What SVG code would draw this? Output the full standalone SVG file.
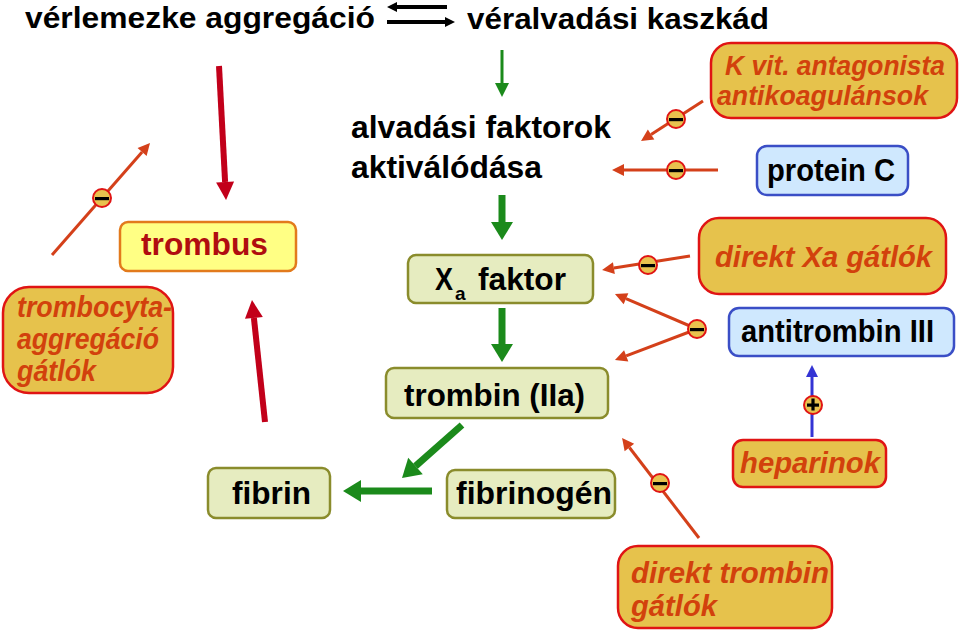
<svg xmlns="http://www.w3.org/2000/svg" width="960" height="632" viewBox="0 0 960 632">
<style>
text{font-family:"Liberation Sans",Arial,sans-serif}
.t{font-weight:bold;fill:#000}
.it{font-weight:bold;font-style:italic;fill:#d2410c}
.gold{fill:#e6c24c;stroke:#e01414;stroke-width:2.5}
.grn{fill:#e6ecc0;stroke:#8a8c2c;stroke-width:2.5}
.blu{fill:#cfe8fe;stroke:#3a4ec6;stroke-width:2.5}
.blk{stroke:#000;stroke-width:4;fill:none}
.g1{stroke:#1b8a1b;stroke-width:3;fill:none}
.g2{stroke:#1b8a1b;stroke-width:7;fill:none}
.r{stroke:#c2001a;stroke-width:6;fill:none}
.o{stroke:#d4401a;stroke-width:3;fill:none}
.b{stroke:#3434d4;stroke-width:3;fill:none}
.mc{fill:#e8c24e;stroke:#e01414;stroke-width:2}
</style>
<defs>
<marker id="mb" markerUnits="userSpaceOnUse" markerWidth="12" markerHeight="12" viewBox="0 -6 12 12" refX="0" refY="0" orient="auto" overflow="visible"><path d="M0,-5 L10,0 L0,5 z" fill="#000"/></marker>
<marker id="mg1" markerUnits="userSpaceOnUse" markerWidth="16" markerHeight="16" viewBox="0 -8 16 16" refX="0" refY="0" orient="auto" overflow="visible"><path d="M0,-7 L14,0 L0,7 z" fill="#1b8a1b"/></marker>
<marker id="mg2" markerUnits="userSpaceOnUse" markerWidth="20" markerHeight="24" viewBox="0 -12 20 24" refX="0" refY="0" orient="auto" overflow="visible"><path d="M0,-11 L18,0 L0,11 z" fill="#1b8a1b"/></marker>
<marker id="mr" markerUnits="userSpaceOnUse" markerWidth="20" markerHeight="20" viewBox="0 -10 20 20" refX="0" refY="0" orient="auto" overflow="visible"><path d="M0,-9 L18,0 L0,9 z" fill="#c2001a"/></marker>
<marker id="mo" markerUnits="userSpaceOnUse" markerWidth="14" markerHeight="14" viewBox="0 -7 14 14" refX="0" refY="0" orient="auto" overflow="visible"><path d="M0,-6 L12,0 L0,6 z" fill="#d4401a"/></marker>
<marker id="mbl" markerUnits="userSpaceOnUse" markerWidth="14" markerHeight="14" viewBox="0 -7 14 14" refX="0" refY="0" orient="auto" overflow="visible"><path d="M0,-6 L12,0 L0,6 z" fill="#3434d4"/></marker>
<g id="minus"><circle r="9" class="mc"/><rect x="-7" y="-1" width="14" height="3.2" fill="#000"/></g>
<g id="plus"><circle r="9" class="mc"/><rect x="-6" y="-1.5" width="12" height="3.2" fill="#000"/><rect x="-1.6" y="-6.5" width="3.2" height="12" fill="#000"/></g>
</defs>
<rect width="960" height="632" fill="#fff"/>

<g id="connectors">
<line class="blk" x1="447" y1="7" x2="397" y2="7" marker-end="url(#mb)"/>
<line class="blk" x1="387" y1="22" x2="445" y2="22" marker-end="url(#mb)"/>
<line class="g1" x1="502" y1="50" x2="502" y2="83" marker-end="url(#mg1)"/>
<line class="g2" x1="502" y1="195" x2="502" y2="222" marker-end="url(#mg2)"/>
<line class="g2" x1="502" y1="308" x2="502" y2="344" marker-end="url(#mg2)"/>
<line class="g2" x1="462" y1="425" x2="415.5" y2="466.1" marker-end="url(#mg2)"/>
<line class="g2" x1="432" y1="491" x2="361" y2="491" marker-end="url(#mg2)"/>
<line class="r" x1="219" y1="66" x2="225.1" y2="182" marker-end="url(#mr)"/>
<line class="r" x1="265" y1="422" x2="253.9" y2="317.9" marker-end="url(#mr)"/>
<line class="o" x1="703" y1="101" x2="651.1" y2="134.5" marker-end="url(#mo)"/>
<line class="o" x1="718" y1="170" x2="624" y2="170" marker-end="url(#mo)"/>
<line class="o" x1="690" y1="256" x2="613.9" y2="268.1" marker-end="url(#mo)"/>
<line class="o" x1="697" y1="329" x2="626" y2="298.7" marker-end="url(#mo)"/>
<line class="o" x1="697" y1="329" x2="626.2" y2="355.8" marker-end="url(#mo)"/>
<line class="o" x1="699" y1="538" x2="629.4" y2="447.5" marker-end="url(#mo)"/>
<line class="o" x1="52" y1="255" x2="142.1" y2="152" marker-end="url(#mo)"/>
<line class="b" x1="812" y1="437" x2="812" y2="377" marker-end="url(#mbl)"/>
<use href="#minus" x="102" y="198"/>
<use href="#minus" x="676" y="119"/>
<use href="#minus" x="676" y="170"/>
<use href="#minus" x="648" y="265"/>
<use href="#minus" x="697" y="329"/>
<use href="#minus" x="660" y="483"/>
<use href="#plus" x="813" y="405"/>
</g>

<g id="verlemezke"><text class="t" x="25" y="28" font-size="30" textLength="350" lengthAdjust="spacingAndGlyphs">vérlemezke aggregáció</text></g>
<g id="kaszkad"><text class="t" x="467" y="29" font-size="30" textLength="302" lengthAdjust="spacingAndGlyphs">véralvadási kaszkád</text></g>
<g id="alvadasi">
<text class="t" x="351" y="138" font-size="31" textLength="260" lengthAdjust="spacingAndGlyphs">alvadási faktorok</text>
<text class="t" x="351" y="178" font-size="31" textLength="191" lengthAdjust="spacingAndGlyphs">aktiválódása</text>
</g>
<g id="trombus">
<rect x="120" y="222" width="176" height="49" rx="8" fill="#ffff84" stroke="#e27a1c" stroke-width="2.5"/>
<text x="141" y="255" font-size="32" font-weight="bold" fill="#b00d10" textLength="127" lengthAdjust="spacingAndGlyphs">trombus</text>
</g>
<g id="trombocyta">
<rect x="3" y="287" width="170" height="106" rx="26" class="gold"/>
<text class="it" x="17" y="317" font-size="29" textLength="155" lengthAdjust="spacingAndGlyphs">trombocyta-</text>
<text class="it" x="17" y="349" font-size="29" textLength="142" lengthAdjust="spacingAndGlyphs">aggregáció</text>
<text class="it" x="17" y="381" font-size="29" textLength="79" lengthAdjust="spacingAndGlyphs">gátlók</text>
</g>
<g id="xa">
<rect x="408" y="255" width="185" height="48" rx="8" class="grn"/>
<text class="t" x="435" y="290" font-size="32" textLength="18" lengthAdjust="spacingAndGlyphs">X</text>
<text class="t" x="455" y="300" font-size="19">a</text>
<text class="t" x="478" y="290" font-size="32" textLength="88" lengthAdjust="spacingAndGlyphs">faktor</text>
</g>
<g id="trombin">
<rect x="386" y="368" width="222" height="50" rx="8" class="grn"/>
<text class="t" x="404" y="406" font-size="32" textLength="181" lengthAdjust="spacingAndGlyphs">trombin (IIa)</text>
</g>
<g id="fibrin">
<rect x="208" y="468" width="122" height="50" rx="8" class="grn"/>
<text class="t" x="232" y="504" font-size="32" textLength="79" lengthAdjust="spacingAndGlyphs">fibrin</text>
</g>
<g id="fibrinogen">
<rect x="447" y="470" width="168" height="48" rx="8" class="grn"/>
<text class="t" x="456" y="504" font-size="32" textLength="156" lengthAdjust="spacingAndGlyphs">fibrinogén</text>
</g>
<g id="kvit">
<rect x="711" y="43" width="246" height="75" rx="20" class="gold"/>
<text class="it" x="725" y="75" font-size="28" textLength="220" lengthAdjust="spacingAndGlyphs">K vit. antagonista</text>
<text class="it" x="717" y="105" font-size="28" textLength="211" lengthAdjust="spacingAndGlyphs">antikoagulánsok</text>
</g>
<g id="proteinC">
<rect x="757" y="146" width="151" height="49" rx="10" class="blu"/>
<text class="t" x="767" y="181" font-size="31" textLength="128" lengthAdjust="spacingAndGlyphs">protein C</text>
</g>
<g id="direktXa">
<rect x="699" y="218" width="247" height="76" rx="20" class="gold"/>
<text class="it" x="715" y="267" font-size="30" textLength="217" lengthAdjust="spacingAndGlyphs">direkt Xa gátlók</text>
</g>
<g id="antitrombin">
<rect x="729" y="308" width="225" height="48" rx="10" class="blu"/>
<text class="t" x="741" y="342" font-size="32" textLength="193" lengthAdjust="spacingAndGlyphs">antitrombin III</text>
</g>
<g id="heparinok">
<rect x="733" y="440" width="153" height="47" rx="10" class="gold"/>
<text class="it" x="740" y="473" font-size="29" textLength="140" lengthAdjust="spacingAndGlyphs">heparinok</text>
</g>
<g id="direktTrombin">
<rect x="618" y="546" width="214" height="82" rx="20" class="gold"/>
<text class="it" x="631" y="583" font-size="29" textLength="198" lengthAdjust="spacingAndGlyphs">direkt trombin</text>
<text class="it" x="631" y="616" font-size="29" textLength="86" lengthAdjust="spacingAndGlyphs">gátlók</text>
</g>
</svg>
